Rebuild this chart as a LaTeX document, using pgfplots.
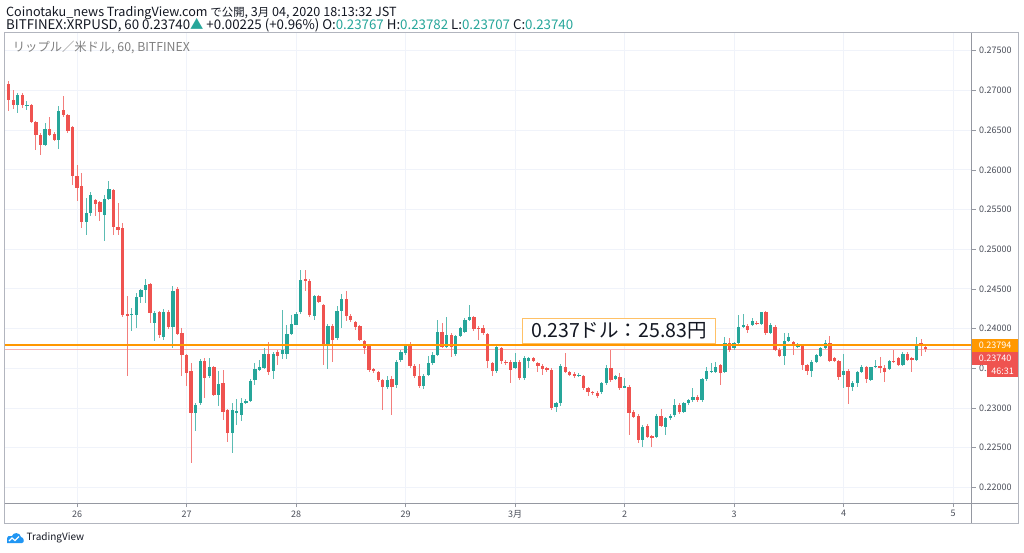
\documentclass[border=0pt]{standalone}
\usepackage{pgfplots}
\pgfplotsset{compat=1.18}
\usepackage{pgfplotstable}
\usepackage{fontspec}
\setmainfont{Noto Sans CJK JP}
\definecolor{up}{HTML}{26A69A}
\definecolor{dn}{HTML}{EF5350}
\definecolor{gridc}{HTML}{F0F3FA}
\definecolor{framec}{HTML}{B2B5BE}
\definecolor{sepc}{HTML}{9598A1}
\definecolor{txt}{HTML}{131722}
\definecolor{labc}{HTML}{4A4E59}
\definecolor{orng}{HTML}{FF9800}
\definecolor{tvblue}{HTML}{2196F3}
\newcommand{\jp}[1]{{\fontsize{11.4}{12}\selectfont #1}}

\pgfplotstableread{
k o h l c
3 0.26811 0.26966 0.26715 0.26945
5 0.26811 0.26862 0.26757 0.26820
9 0.26308 0.26589 0.26295 0.26518
12 0.26371 0.26799 0.26262 0.26744
18 0.25339 0.25645 0.25184 0.25456
19 0.25456 0.25716 0.25414 0.25679
22 0.25427 0.25687 0.25100 0.25637
23 0.25637 0.25855 0.25624 0.25758
28 0.24177 0.24261 0.23967 0.24185
29 0.24177 0.24449 0.24009 0.24399
30 0.24399 0.24500 0.24324 0.24491
31 0.24491 0.24630 0.24324 0.24554
33 0.24072 0.24219 0.23841 0.24198
35 0.23891 0.24248 0.23862 0.24210
37 0.24022 0.24542 0.23757 0.24479
42 0.22939 0.23060 0.22709 0.23032
43 0.23065 0.23620 0.23040 0.23598
45 0.23401 0.23631 0.23380 0.23514
47 0.23170 0.23464 0.23023 0.23308
50 0.22688 0.23065 0.22436 0.22981
51 0.22950 0.23115 0.22792 0.22960
52 0.22918 0.23128 0.22834 0.23065
53 0.23065 0.23110 0.23050 0.23094
54 0.23094 0.23360 0.23070 0.23338
55 0.23359 0.23568 0.23296 0.23485
56 0.23485 0.23610 0.23460 0.23518
57 0.23506 0.23757 0.23490 0.23682
59 0.23464 0.23700 0.23367 0.23682
61 0.23674 0.24240 0.23619 0.23736
62 0.23682 0.24050 0.23619 0.23938
63 0.23938 0.24177 0.23920 0.24064
64 0.24051 0.24210 0.24040 0.24190
65 0.24206 0.24735 0.24190 0.24617
68 0.24156 0.24420 0.24114 0.24408
71 0.23791 0.24060 0.23497 0.24039
73 0.23883 0.24282 0.23860 0.24219
74 0.24219 0.24441 0.24009 0.24378
84 0.23262 0.23400 0.23240 0.23359
86 0.23296 0.23610 0.23250 0.23581
87 0.23611 0.23730 0.23580 0.23707
88 0.23695 0.23810 0.23670 0.23791
92 0.23275 0.23430 0.23240 0.23409
93 0.23420 0.23650 0.23400 0.23564
94 0.23564 0.23711 0.23540 0.23669
95 0.23669 0.24109 0.23650 0.23962
97 0.23773 0.24151 0.23750 0.23920
99 0.23677 0.23920 0.23660 0.23908
100 0.23908 0.24025 0.23890 0.24004
101 0.23962 0.24130 0.23940 0.24109
102 0.24109 0.24298 0.24090 0.24151
108 0.23467 0.23790 0.23440 0.23773
112 0.23509 0.23690 0.23490 0.23585
114 0.23375 0.23650 0.23350 0.23635
115 0.23597 0.23640 0.23500 0.23627
121 0.23018 0.23080 0.22955 0.23060
122 0.23060 0.23550 0.23020 0.23530
126 0.23404 0.23440 0.23390 0.23417
131 0.23207 0.23330 0.23180 0.23312
132 0.23312 0.23543 0.23290 0.23509
134 0.23371 0.23420 0.23350 0.23400
136 0.23262 0.23375 0.23250 0.23278
140 0.22599 0.22780 0.22515 0.22767
143 0.22641 0.22920 0.22620 0.22901
145 0.22767 0.22890 0.22662 0.22871
146 0.22871 0.22920 0.22850 0.22901
147 0.22913 0.23115 0.22890 0.23039
149 0.22955 0.23080 0.22940 0.23060
150 0.23060 0.23115 0.23040 0.23102
151 0.23102 0.23249 0.23080 0.23144
153 0.23102 0.23380 0.23080 0.23362
154 0.23362 0.23522 0.23340 0.23467
155 0.23459 0.23572 0.23440 0.23471
156 0.23459 0.23585 0.23440 0.23522
158 0.23459 0.23899 0.23440 0.23815
160 0.23752 0.23830 0.23730 0.23815
161 0.23815 0.24172 0.23800 0.24025
162 0.24025 0.24185 0.24010 0.24046
164 0.24046 0.24130 0.24030 0.24096
166 0.24055 0.24214 0.24040 0.24206
168 0.23950 0.24067 0.23930 0.24046
171 0.23656 0.23941 0.23543 0.23849
172 0.23849 0.23941 0.23830 0.23899
174 0.23773 0.23820 0.23760 0.23803
177 0.23471 0.23600 0.23396 0.23585
178 0.23585 0.23680 0.23570 0.23669
179 0.23656 0.23770 0.23640 0.23752
180 0.23752 0.23857 0.23740 0.23815
184 0.23417 0.23681 0.23249 0.23471
186 0.23262 0.23340 0.23220 0.23320
187 0.23320 0.23470 0.23270 0.23459
188 0.23459 0.23543 0.23440 0.23513
190 0.23354 0.23522 0.23340 0.23513
191 0.23522 0.23606 0.23500 0.23530
194 0.23492 0.23610 0.23480 0.23597
197 0.23543 0.23700 0.23530 0.23681
200 0.23606 0.23899 0.23590 0.23803
}\uptab

\pgfplotstableread{
k o h l c
1 0.27084 0.27113 0.26736 0.26874
2 0.26874 0.27008 0.26760 0.26811
4 0.26937 0.26966 0.26780 0.26811
6 0.26811 0.26830 0.26589 0.26597
7 0.26597 0.26610 0.26253 0.26442
8 0.26442 0.26460 0.26182 0.26308
10 0.26518 0.26664 0.26430 0.26442
11 0.26455 0.26470 0.26360 0.26371
13 0.26748 0.26933 0.26670 0.26685
14 0.26685 0.26700 0.26463 0.26484
15 0.26534 0.26550 0.25813 0.25918
16 0.25926 0.26065 0.25603 0.25771
17 0.25792 0.25960 0.25268 0.25339
20 0.25616 0.25630 0.25414 0.25565
21 0.25595 0.25610 0.25351 0.25469
24 0.25741 0.25760 0.25184 0.25276
25 0.25276 0.25582 0.25184 0.25246
26 0.25267 0.25330 0.24150 0.24177
27 0.24185 0.24407 0.23409 0.24164
32 0.24563 0.24570 0.24072 0.24198
34 0.24210 0.24220 0.23883 0.23917
36 0.24210 0.24230 0.24000 0.24022
38 0.24504 0.24520 0.23920 0.23938
39 0.23946 0.24009 0.23409 0.23665
40 0.23665 0.23680 0.23275 0.23443
41 0.23464 0.23568 0.22302 0.22939
44 0.23589 0.23631 0.23128 0.23380
46 0.23514 0.23530 0.23150 0.23170
48 0.23317 0.23485 0.22855 0.22948
49 0.22973 0.22990 0.22570 0.22679
58 0.23682 0.23833 0.23422 0.23455
60 0.23707 0.23736 0.23539 0.23653
66 0.24630 0.24735 0.24471 0.24596
67 0.24605 0.24620 0.24140 0.24177
69 0.24408 0.24420 0.24320 0.24336
70 0.24294 0.24310 0.23539 0.23791
72 0.24039 0.24060 0.23577 0.23854
75 0.24370 0.24471 0.24100 0.24160
76 0.24156 0.24180 0.24080 0.24106
77 0.24085 0.24100 0.23980 0.24018
78 0.24030 0.24050 0.23840 0.23862
79 0.23850 0.23860 0.23682 0.23757
80 0.23778 0.23790 0.23450 0.23485
81 0.23493 0.23510 0.23440 0.23460
82 0.23451 0.23460 0.23330 0.23359
83 0.23359 0.23370 0.22981 0.23262
85 0.23367 0.23400 0.22906 0.23267
89 0.23799 0.23833 0.23500 0.23527
90 0.23527 0.23550 0.23380 0.23401
91 0.23401 0.23560 0.23250 0.23275
96 0.23962 0.24067 0.23750 0.23773
98 0.23920 0.23940 0.23648 0.23773
103 0.24143 0.24160 0.23970 0.23992
104 0.24013 0.24030 0.23857 0.23992
105 0.24004 0.24046 0.23920 0.23941
106 0.23929 0.23940 0.23501 0.23593
107 0.23564 0.23580 0.23400 0.23467
109 0.23752 0.23770 0.23550 0.23593
110 0.23585 0.23600 0.23540 0.23572
111 0.23585 0.23600 0.23312 0.23480
113 0.23585 0.23600 0.23350 0.23375
116 0.23627 0.23640 0.23580 0.23597
117 0.23564 0.23580 0.23450 0.23530
118 0.23530 0.23550 0.23420 0.23492
119 0.23501 0.23520 0.23450 0.23480
120 0.23480 0.23500 0.22980 0.22997
123 0.23522 0.23690 0.23440 0.23459
124 0.23450 0.23470 0.23400 0.23417
125 0.23429 0.23450 0.23380 0.23404
127 0.23404 0.23420 0.23230 0.23257
128 0.23249 0.23270 0.23150 0.23207
129 0.23207 0.23220 0.23160 0.23186
130 0.23195 0.23210 0.23130 0.23157
133 0.23501 0.23732 0.23330 0.23354
135 0.23396 0.23438 0.23228 0.23249
137 0.23270 0.23290 0.22662 0.22934
138 0.22955 0.22980 0.22870 0.22892
139 0.22901 0.22920 0.22565 0.22599
141 0.22775 0.22800 0.22620 0.22641
142 0.22649 0.22660 0.22515 0.22628
144 0.22901 0.22985 0.22760 0.22775
148 0.23039 0.23060 0.22930 0.22955
152 0.23144 0.23160 0.23080 0.23102
157 0.23543 0.23560 0.23291 0.23446
159 0.23815 0.23878 0.23710 0.23732
163 0.24038 0.24060 0.23941 0.23983
165 0.24076 0.24090 0.24040 0.24055
167 0.24206 0.24220 0.23920 0.23941
169 0.24025 0.24040 0.23720 0.23732
170 0.23732 0.23750 0.23640 0.23656
173 0.23836 0.23850 0.23669 0.23782
175 0.23782 0.23800 0.23480 0.23539
176 0.23539 0.23560 0.23417 0.23471
181 0.23815 0.23908 0.23580 0.23597
182 0.23627 0.23640 0.23580 0.23593
183 0.23593 0.23610 0.23354 0.23388
185 0.23467 0.23490 0.23052 0.23262
189 0.23513 0.23530 0.23312 0.23367
192 0.23530 0.23639 0.23438 0.23501
193 0.23501 0.23543 0.23333 0.23459
195 0.23597 0.23732 0.23570 0.23585
196 0.23627 0.23640 0.23530 0.23543
198 0.23681 0.23700 0.23590 0.23606
199 0.23627 0.23640 0.23459 0.23606
201 0.23815 0.23866 0.23656 0.23794
202 0.23767 0.23782 0.23707 0.23740
}\dntab

\pgfplotsset{
  wick/.style={draw=none, mark=none, forget plot,
    error bars/.cd, y dir=both, y explicit, error mark=none,
    error bar style={draw=#1, line width=1pt}},
  body/.style={draw=none, mark=none, forget plot,
    error bars/.cd, y dir=both, y explicit, error mark=none,
    error bar style={draw=#1, line width=3.3pt}},
}

\begin{document}
\begin{tikzpicture}
\begin{scope}[x=1pt,y=1pt]
\path[use as bounding box] (0,0) rectangle (1024,552);
\fill[white] (0,0) rectangle (1024,552);
\end{scope}
\begin{axis}[
  at={(4.7pt,49pt)}, anchor=south west, scale only axis,
  width=967pt, height=470pt,
  xmin=0.145, xmax=212.09, ymin=0.218036, ymax=0.277229,
  axis line style={draw=none},
  xtick={16,40,64,88,112,136,160,184,208},
  xticklabels={26,27,28,29,3月,2,3,4,5},
  ytick={0.220,0.225,0.230,0.235,0.240,0.245,0.250,0.255,0.260,0.265,0.270,0.275},
  yticklabel={\pgfmathprintnumber[fixed,fixed zerofill,precision=5]{\tick}},
  /pgf/number format/assume math mode=true,
  xtick pos=bottom, ytick pos=right, yticklabel pos=right,
  tick align=outside, major tick length=4pt,
  tick style={draw=sepc, line width=0.6pt},
  grid=major, major grid style={draw=gridc, line width=1pt},
  tick label style={font=\fontsize{9}{10}\selectfont, text=labc},
  clip=true,
]
\addplot[dn!45, line width=0.8pt, forget plot] coordinates {(0.145,0.23740) (212.09,0.23740)};
\addplot[wick=up!75] table[x=k, y expr={(\thisrow{h}+\thisrow{l})/2}, y error expr={(\thisrow{h}-\thisrow{l})/2}] {\uptab};
\addplot[wick=dn!75] table[x=k, y expr={(\thisrow{h}+\thisrow{l})/2}, y error expr={(\thisrow{h}-\thisrow{l})/2}] {\dntab};
\addplot[body=up] table[x=k, y expr={(\thisrow{o}+\thisrow{c})/2}, y error expr={max(abs(\thisrow{c}-\thisrow{o})/2,0.00004)}] {\uptab};
\addplot[body=dn] table[x=k, y expr={(\thisrow{o}+\thisrow{c})/2}, y error expr={max(abs(\thisrow{c}-\thisrow{o})/2,0.00004)}] {\dntab};
\addplot[orng, line width=1.8pt, forget plot] coordinates {(0.145,0.23794) (212.09,0.23794)};
\end{axis}
\begin{scope}[x=1pt,y=1pt]
% frame
\draw[framec, line width=1pt] (4.7,29) rectangle (1018,519);
\draw[sepc, line width=1pt] (971.7,29) -- (971.7,519);
\draw[sepc, line width=1pt] (4.7,49) -- (1018,49);
% annotation
\node[draw=orng!60, fill=white, line width=0.8pt, minimum width=193pt, minimum height=25pt, inner sep=0pt, anchor=south west, font=\fontsize{19.5}{22}\selectfont, text=txt] at (522,208) {0.237ドル：25.83円};
% price labels
\fill[orng] (971.7,200) rectangle (1018,213);
\node[text=white, font=\fontsize{9}{10}\selectfont] at (995,206.5) {0.23794};
\fill[dn] (971.7,187) rectangle (1018,200);
\node[text=white, font=\fontsize{9}{10}\selectfont] at (995,193.5) {0.23740};
\fill[dn] (987,175) rectangle (1018,187);
\node[text=white, font=\fontsize{9}{10}\selectfont] at (1002.5,181) {46:31};
% header
\node[anchor=base west, inner sep=0pt, font=\fontsize{12.6}{15}\selectfont, text=txt] at (6,535) {Coinotaku\_news TradingView.com \jp{で公開}, 3\jp{月} 04, 2020 18:13:32 JST};
\node[anchor=base west, inner sep=0pt, font=\fontsize{13.3}{15}\selectfont, text=txt] at (6,522.5) {BITFINEX:XRPUSD, 60 0.23740\textcolor{up}{▲} +0.00225 (+0.96\%) O:\textcolor{up}{0.23767} H:\textcolor{up}{0.23782} L:\textcolor{up}{0.23707} C:\textcolor{up}{0.23740}};
\node[anchor=base west, inner sep=0pt, font=\fontsize{12.3}{14}\selectfont, text=gray] at (12.7,500.3) {リップル／米ドル, 60, BITFINEX};
% logo
\fill[tvblue] (7,9) -- (7,13) .. controls (7,16) and (10,17) .. (12,16) .. controls (13,20) and (20,20) .. (21,15) .. controls (24,15) and (25,9) .. (22,9) -- cycle;
\draw[white, line width=1.2pt] (9,11) -- (12,14) -- (15,11.5) -- (19,15.5);
\node[anchor=west, inner sep=0pt, font=\fontsize{10}{12}\selectfont, text=txt] at (26.5,14) {TradingView};
\end{scope}
\end{tikzpicture}
\end{document}
